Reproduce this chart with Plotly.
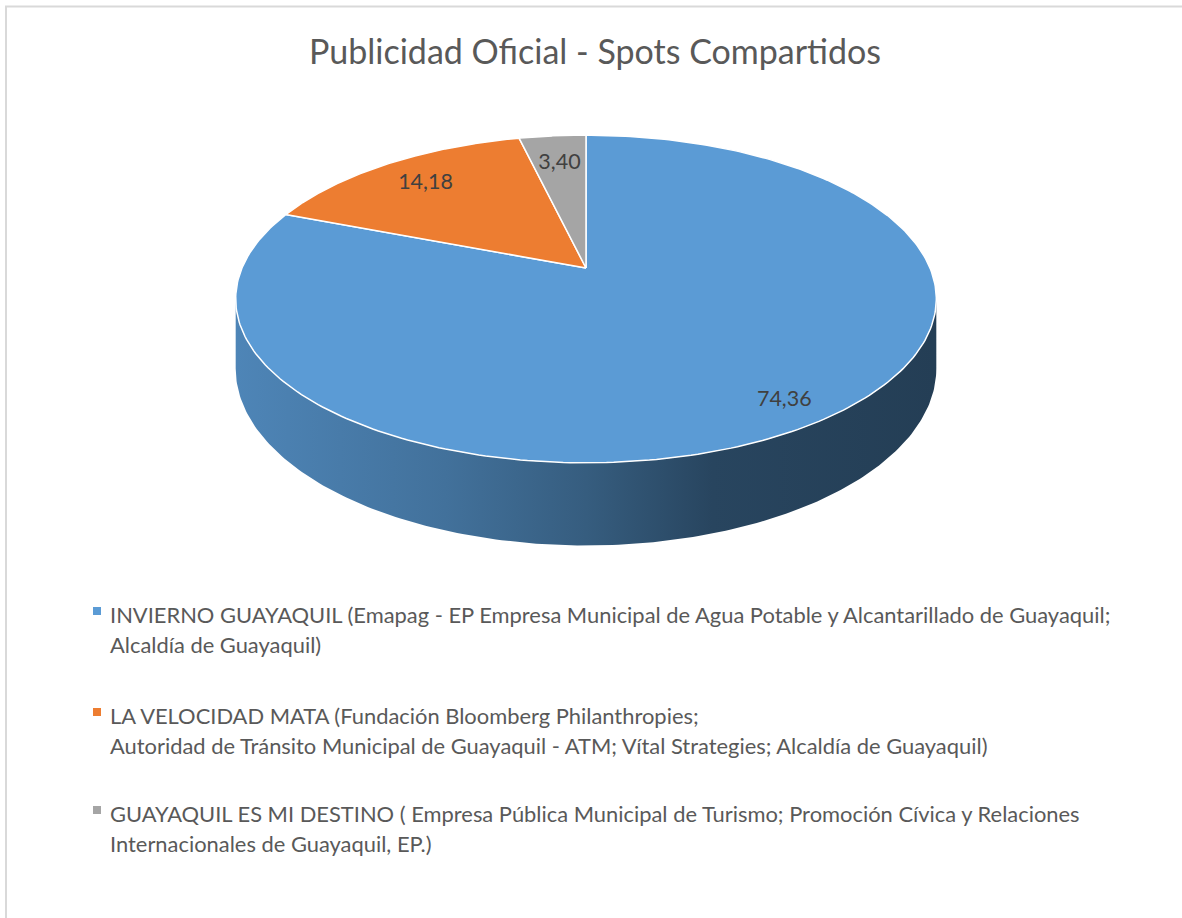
import numpy as np
import plotly.graph_objects as go

# ---------------- data ----------------
title = "Publicidad Oficial - Spots Compartidos"
categories = [
    "INVIERNO GUAYAQUIL (Emapag - EP Empresa Municipal de Agua Potable y Alcantarillado de Guayaquil;\nAlcaldía de Guayaquil)",
    "LA VELOCIDAD MATA (Fundación Bloomberg Philanthropies;\nAutoridad de Tránsito Municipal de Guayaquil - ATM; Vítal Strategies; Alcaldía de Guayaquil)",
    "GUAYAQUIL ES MI DESTINO ( Empresa Pública Municipal de Turismo; Promoción Cívica y Relaciones\nInternacionales de Guayaquil, EP.)",
]
values = [74.36, 14.18, 3.40]

# ---------------- style ----------------
colors = ["#5B9BD5", "#ED7D31", "#A5A5A5"]
FONT = "Lato"
TEXT_COLOR = "#595959"
LABEL_COLOR = "#404040"
W, H = 1182, 918
CX, CY = 586, 268          # projected centre of the pie top
RX, RY, K, DEPTH = 344, 158, 0.189, 67
label_r = [0.88, 0.79, 0.76]
legend_x_marker, legend_x_text = 97, 108
legend_y = [614, 715, 813]
line_gap = 30


def hex2rgb(h):
    h = h.lstrip("#")
    return tuple(int(h[i:i + 2], 16) for i in (0, 2, 4))


def shade(h, f):
    r, g, b = hex2rgb(h)
    return f"rgb({int(r * f)},{int(g * f)},{int(b * f)})"


def proj(theta, r=1.0, drop=0.0):
    u = r * np.sin(theta)
    v = r * np.cos(theta)
    w = 1 + K * v
    return CX + RX * u / w, CY - RY * v / w + drop / w


fig = go.Figure()

total = sum(values)
bounds = np.concatenate([[0], np.cumsum(values) / total]) * 2 * np.pi

# visible front wall range
t_right = np.arccos(-K)
t_left = 2 * np.pi - t_right

# side walls
for i, c in enumerate(colors):
    a0, a1 = max(bounds[i], t_right), min(bounds[i + 1], t_left)
    if a1 <= a0:
        continue
    t = np.linspace(a0, a1, 200)
    xt, yt = proj(t)
    xb, yb = proj(t[::-1], drop=DEPTH)
    fig.add_trace(go.Scatter(
        x=np.concatenate([xt, xb, xt[:1]]), y=np.concatenate([yt, yb, yt[:1]]),
        mode="lines", line=dict(width=0, color=c), fill="toself",
        fillgradient=dict(type="horizontal", colorscale=[
            [0, shade(c, 0.86)], [0.3, shade(c, 0.73)], [0.5, shade(c, 0.6)],
            [0.68, shade(c, 0.45)], [1, shade(c, 0.4)]]),
        hoverinfo="skip", showlegend=False))

# top faces
for i, c in enumerate(colors):
    t = np.linspace(bounds[i], bounds[i + 1], 300)
    xa, ya = proj(t)
    fig.add_trace(go.Scatter(
        x=np.concatenate([[CX], xa, [CX]]), y=np.concatenate([[CY], ya, [CY]]),
        mode="lines", line=dict(width=1.5, color="white"), fill="toself",
        fillcolor=c, hoverinfo="skip", showlegend=False))

# data labels
lx, ly = [], []
for i in range(len(values)):
    mid = (bounds[i] + bounds[i + 1]) / 2
    x, y = proj(mid, r=label_r[i])
    lx.append(x)
    ly.append(y)
fig.add_trace(go.Scatter(
    x=lx, y=ly, mode="text",
    text=[f"{v:.2f}".replace(".", ",") for v in values],
    textfont=dict(family=FONT, size=21.5, color=LABEL_COLOR),
    hoverinfo="skip", showlegend=False))

# legend
fig.add_trace(go.Scatter(
    x=[legend_x_marker] * len(values), y=[y - 3 for y in legend_y], mode="markers",
    marker=dict(symbol="square", size=8, color=colors),
    hoverinfo="skip", showlegend=False))
for i, cat in enumerate(categories):
    for j, line in enumerate(cat.split("\n")):
        fig.add_annotation(x=legend_x_text, y=legend_y[i] + j * line_gap, text=line,
                           xanchor="left", yanchor="middle", showarrow=False,
                           font=dict(family=FONT, size=21.9, color=TEXT_COLOR))

# title
fig.add_annotation(x=595, y=50, text=title, xanchor="center", yanchor="middle",
                   showarrow=False, font=dict(family=FONT, size=34, color=TEXT_COLOR))

# chart border
fig.add_shape(type="rect", x0=6, y0=6.5, x1=W + 10, y1=H + 10,
              line=dict(color="#D9D9D9", width=2), layer="below")

fig.update_layout(
    width=W, height=H, margin=dict(l=0, r=0, t=0, b=0),
    paper_bgcolor="white", plot_bgcolor="white",
    xaxis=dict(range=[0, W], visible=False, fixedrange=True),
    yaxis=dict(range=[H, 0], visible=False, fixedrange=True),
    showlegend=False,
)

fig.write_html("out.html", config={"displayModeBar": False},
               post_script="document.body.style.margin='0';document.body.style.overflow='hidden';")
